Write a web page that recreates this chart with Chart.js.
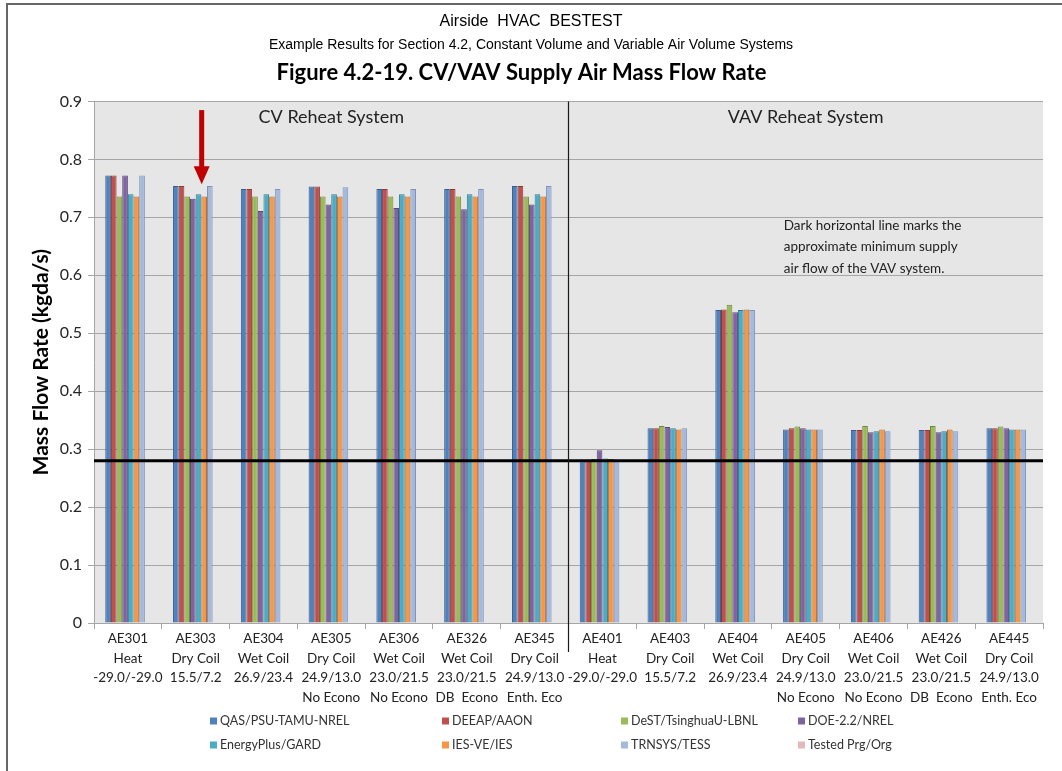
<!DOCTYPE html>
<html>
<head>
<meta charset="utf-8">
<script src="https://cdn.jsdelivr.net/npm/chart.js@4.4.0/dist/chart.umd.min.js"></script>
<style>
body { margin: 0; background: #fff; }
#contenedor { width: 1062px; height: 771px; position: relative; }
</style>
</head>
<body>
<div id="contenedor"><canvas id="myChart"></canvas></div>
<script>
//Casos de prueba (eje X)
let casos = [
    ['AE301', 'Heat', '-29.0/-29.0'],
    ['AE303', 'Dry Coil', '15.5/7.2'],
    ['AE304', 'Wet Coil', '26.9/23.4'],
    ['AE305', 'Dry Coil', '24.9/13.0', 'No Econo'],
    ['AE306', 'Wet Coil', '23.0/21.5', 'No Econo'],
    ['AE326', 'Wet Coil', '23.0/21.5', 'DB  Econo'],
    ['AE345', 'Dry Coil', '24.9/13.0', 'Enth. Eco'],
    ['AE401', 'Heat', '-29.0/-29.0'],
    ['AE403', 'Dry Coil', '15.5/7.2'],
    ['AE404', 'Wet Coil', '26.9/23.4'],
    ['AE405', 'Dry Coil', '24.9/13.0', 'No Econo'],
    ['AE406', 'Wet Coil', '23.0/21.5', 'No Econo'],
    ['AE426', 'Wet Coil', '23.0/21.5', 'DB  Econo'],
    ['AE445', 'Dry Coil', '24.9/13.0', 'Enth. Eco']
];

//Flujo masico de cada programa (kgda/s)
let qas = [0.772, 0.754, 0.749, 0.753, 0.749, 0.749, 0.754, 0.279, 0.336, 0.540, 0.334, 0.333, 0.333, 0.336];
let deeap = [0.772, 0.754, 0.749, 0.753, 0.749, 0.749, 0.754, 0.281, 0.336, 0.541, 0.336, 0.333, 0.333, 0.336];
let dest = [0.736, 0.736, 0.736, 0.736, 0.736, 0.736, 0.736, 0.283, 0.340, 0.549, 0.339, 0.340, 0.340, 0.339];
let doe = [0.772, 0.732, 0.711, 0.722, 0.716, 0.714, 0.722, 0.298, 0.338, 0.536, 0.336, 0.329, 0.329, 0.336];
let energyPlus = [0.740, 0.740, 0.740, 0.740, 0.740, 0.740, 0.740, 0.284, 0.336, 0.540, 0.334, 0.331, 0.331, 0.334];
let iesVe = [0.736, 0.736, 0.736, 0.736, 0.736, 0.736, 0.736, 0.283, 0.334, 0.541, 0.334, 0.334, 0.334, 0.334];
let trnsys = [0.772, 0.754, 0.749, 0.752, 0.749, 0.749, 0.754, 0.279, 0.336, 0.540, 0.334, 0.331, 0.331, 0.334];
let probado = [null, null, null, null, null, null, null, null, null, null, null, null, null, null];

let programas = ['QAS/PSU-TAMU-NREL', 'DEEAP/AAON', 'DeST/TsinghuaU-LBNL', 'DOE-2.2/NREL',
    'EnergyPlus/GARD', 'IES-VE/IES', 'TRNSYS/TESS', 'Tested Prg/Org'];
let series = [qas, deeap, dest, doe, energyPlus, iesVe, trnsys, probado];

let colores = ['#4f81bd', '#c0504d', '#9bbb59', '#8064a2', '#4bacc6', '#f79646', '#a5b9dc', '#e6b9b8'];
let bordes = ['#385d8a', '#8c3836', '#71893f', '#5c4776', '#357d91', '#b66d31', '#7f93b8', '#b88f8e'];

//Linea de flujo minimo del sistema VAV
let flujoMinimo = 0.28;

//Eje Y
let yMinimo = 0;
let yMaximo = 0.9;
let yPaso = 0.1;

let nota = ['Dark horizontal line marks the', 'approximate minimum supply', 'air flow of the VAV system.'];

let fuente = 'Lato, "Open Sans", sans-serif';

//Posiciones de la leyenda
let leyendaX = [210, 442, 621, 798];
let leyendaY = [721, 745];

//Dibujos extra: fondo, lineas, flecha, textos y leyenda
const decoracion = {
    id: 'decoracion',
    beforeDraw(chart) {
        const ctx = chart.ctx;
        const area = chart.chartArea;
        ctx.save();
        ctx.fillStyle = '#ffffff';
        ctx.fillRect(0, 0, chart.width, chart.height);
        ctx.fillStyle = '#e6e6e6';
        ctx.fillRect(area.left, area.top, area.right - area.left, area.bottom - area.top);
        ctx.restore();
    },
    afterDraw(chart) {
        const ctx = chart.ctx;
        const area = chart.chartArea;
        const x = chart.scales.x;
        const y = chart.scales.y;
        ctx.save();

        //Linea horizontal del flujo minimo
        let yLinea = y.getPixelForValue(flujoMinimo);
        ctx.strokeStyle = '#000';
        ctx.lineWidth = 3;
        ctx.beginPath();
        ctx.moveTo(area.left, yLinea);
        ctx.lineTo(area.right, yLinea);
        ctx.stroke();

        //Separacion CV / VAV
        let xDiv = (x.getPixelForValue(6) + x.getPixelForValue(7)) / 2;
        ctx.strokeStyle = '#1a1a1a';
        ctx.lineWidth = 1.2;
        ctx.beginPath();
        ctx.moveTo(xDiv, area.top);
        ctx.lineTo(xDiv, area.bottom + 29);
        ctx.stroke();

        //Flecha roja sobre AE303
        let xf = x.getPixelForValue(1) + 6;
        let yIni = y.getPixelForValue(0.885);
        let yCab = y.getPixelForValue(0.788);
        let yPunta = y.getPixelForValue(0.757);
        ctx.fillStyle = '#c00000';
        ctx.fillRect(xf - 2.5, yIni, 5, yCab - yIni + 1);
        ctx.beginPath();
        ctx.moveTo(xf - 8, yCab);
        ctx.lineTo(xf + 8, yCab);
        ctx.lineTo(xf, yPunta);
        ctx.closePath();
        ctx.fill();

        //Titulos de cada sistema
        ctx.fillStyle = '#222';
        ctx.font = '18px ' + fuente;
        ctx.textAlign = 'center';
        ctx.textBaseline = 'middle';
        ctx.fillText('CV Reheat System', (area.left + xDiv) / 2, area.top + 16);
        ctx.fillText('VAV Reheat System', (xDiv + area.right) / 2, area.top + 16);

        //Nota
        ctx.font = '13.5px ' + fuente;
        ctx.textAlign = 'left';
        let yNota = y.getPixelForValue(0.686);
        nota.forEach(function (linea, i) {
            ctx.fillText(linea, x.getPixelForValue(10) - 22, yNota + i * 21.5);
        });

        //Encabezado
        ctx.fillStyle = '#000';
        ctx.textAlign = 'center';
        ctx.font = '16px "Liberation Sans", Arial, sans-serif';
        ctx.fillText('Airside  HVAC  BESTEST', chart.width / 2, 22);
        ctx.font = '14px "Liberation Sans", Arial, sans-serif';
        ctx.fillText('Example Results for Section 4.2, Constant Volume and Variable Air Volume Systems', chart.width / 2, 45);

        //Leyenda
        ctx.font = '12.5px ' + fuente;
        ctx.textAlign = 'left';
        chart.data.datasets.forEach(function (ds, i) {
            let lx = leyendaX[i % 4];
            let ly = leyendaY[Math.floor(i / 4)];
            ctx.fillStyle = ds.backgroundColor;
            ctx.fillRect(lx, ly - 3.5, 7, 7);
            ctx.fillStyle = '#333';
            ctx.fillText(ds.label, lx + 10, ly);
        });

        //Marco
        ctx.strokeStyle = '#666';
        ctx.lineWidth = 2;
        ctx.strokeRect(7, 4, chart.width, chart.height);

        ctx.restore();
    }
};

let datasets = series.map(function (valores, i) {
    return {
        label: programas[i],
        data: valores,
        backgroundColor: colores[i],
        borderColor: bordes[i],
        borderWidth: 1,
        categoryPercentage: 0.668,
        barPercentage: 1.0
    };
});

const config = {
    type: 'bar',
    data: {
        labels: casos,
        datasets: datasets
    },
    options: {
        responsive: true,
        maintainAspectRatio: false,
        animation: false,
        layout: {
            padding: { left: 0, right: 19, top: 0, bottom: 0 }
        },
        plugins: {
            legend: { display: false },
            tooltip: { enabled: false },
            title: {
                display: true,
                text: 'Figure 4.2-19. CV/VAV Supply Air Mass Flow Rate',
                color: '#000',
                font: { family: fuente, size: 22, weight: 'bold' },
                padding: { top: 60, bottom: 15 }
            }
        },
        scales: {
            x: {
                afterFit: function (scale) { scale.height = 148; },
                grid: {
                    offset: true,
                    drawOnChartArea: false,
                    drawTicks: true,
                    tickLength: 6,
                    color: '#a6a6a6'
                },
                border: { color: '#a6a6a6' },
                ticks: {
                    autoSkip: false,
                    maxRotation: 0,
                    padding: 0,
                    color: '#222',
                    font: { family: fuente, size: 13.5, lineHeight: 1.45 }
                }
            },
            y: {
                min: yMinimo,
                max: yMaximo,
                afterFit: function (scale) { scale.width = 94; },
                grid: { color: '#a6a6a6', tickLength: 6 },
                border: { color: '#a6a6a6' },
                ticks: {
                    stepSize: yPaso,
                    padding: 6,
                    color: '#262626',
                    font: { family: fuente, size: 16 },
                    callback: function (valor) {
                        return valor === 0 ? '0' : valor.toFixed(1);
                    }
                },
                title: {
                    display: true,
                    text: 'Mass Flow Rate (kgda/s)',
                    color: '#000',
                    font: { family: fuente, size: 21, weight: 'bold' },
                    padding: { top: 29, bottom: 0 }
                }
            }
        }
    },
    plugins: [decoracion]
};

const myChart = new Chart(document.getElementById('myChart'), config);
</script>
</body>
</html>
